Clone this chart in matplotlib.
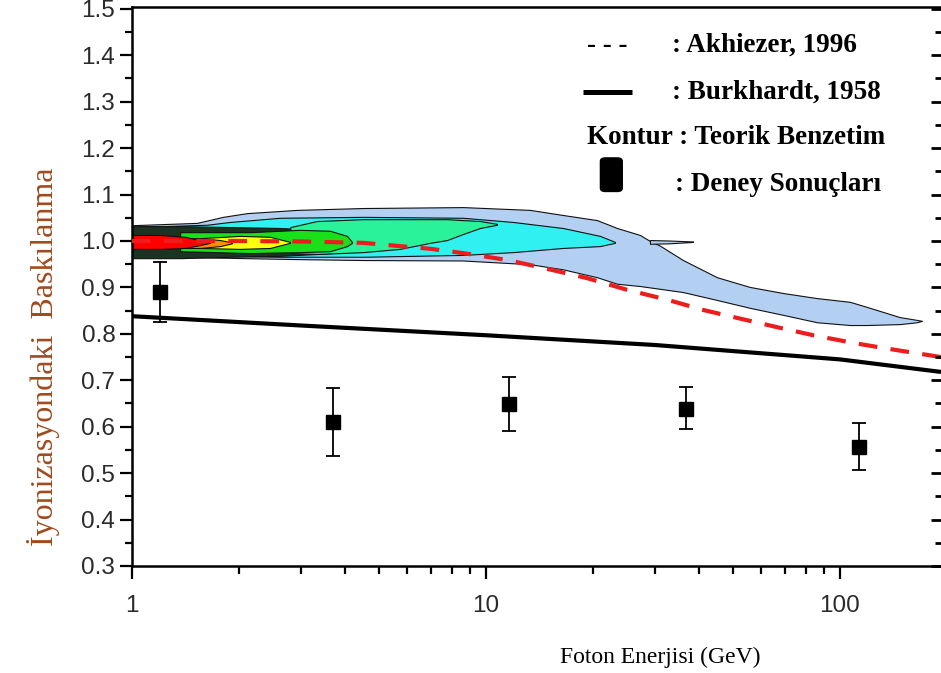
import matplotlib
matplotlib.use("Agg")
import matplotlib.pyplot as plt
from matplotlib.patches import FancyBboxPatch
from matplotlib.lines import Line2D
from matplotlib.ticker import LogLocator, NullFormatter, FixedLocator, MultipleLocator

# ---------------- data ----------------
# Experimental points (Deney Sonuçları)
exp_E = [1.2, 3.7, 11.6, 36.7, 113.0]
exp_val = [0.890, 0.610, 0.649, 0.638, 0.556]
exp_err_lo = [0.065, 0.073, 0.059, 0.043, 0.050]
exp_err_hi = [0.065, 0.073, 0.058, 0.047, 0.052]

# Akhiezer, 1996 (dashed red)
akh_E = [1.0, 2.0, 3.0, 4.5, 7.0, 8.6, 11.5, 14.9, 19.3, 25.0, 32.7, 41.3, 54.2, 68.6, 84.0, 110.0, 134.0, 193.0]
akh_val = [1.000, 1.000, 0.999, 0.996, 0.983, 0.974, 0.959, 0.940, 0.920, 0.895, 0.873, 0.851, 0.830, 0.812, 0.797, 0.780, 0.769, 0.750]

# Burkhardt, 1958 (solid black)
bur_E = [1.0, 3.0, 10.0, 30.0, 100.0, 193.0]
bur_val = [0.838, 0.818, 0.797, 0.776, 0.745, 0.718]

# Contour (Teorik Benzetim) levels: energy, upper edge, lower edge
lb_E = [1.0, 1.526, 1.807, 2.113, 2.925, 4.493, 8.61, 13.31, 16.5, 20.59, 23.45, 27.23, 29.06,
        31.01, 36.02, 44.93, 55.69, 69.02, 86.1, 106.7, 119.2, 147.7, 165.1, 170.5]
lb_up = [1.034, 1.039, 1.052, 1.060, 1.067, 1.071, 1.073, 1.067, 1.056, 1.045, 1.028, 1.013, 1.000,
         0.990, 0.959, 0.922, 0.901, 0.888, 0.877, 0.869, 0.858, 0.836, 0.830, 0.828]
lb_lo = [0.966, 0.965, 0.964, 0.963, 0.961, 0.959, 0.958, 0.950, 0.939, 0.922, 0.908, 0.903, 0.900,
         0.897, 0.890, 0.873, 0.856, 0.841, 0.825, 0.819, 0.819, 0.821, 0.825, 0.828]

spike_E = [29.06, 33.0, 38.43]
spike_up = [1.002, 1.001, 0.999]
spike_lo = [0.994, 0.995, 0.998]

cy_E = [1.0, 1.629, 1.891, 2.619, 4.493, 8.61, 11.92, 16.5, 20.99, 23.14]
cy_up = [1.030, 1.035, 1.041, 1.050, 1.052, 1.050, 1.041, 1.028, 1.011, 0.998]
cy_lo = [0.968, 0.968, 0.968, 0.966, 0.966, 0.970, 0.976, 0.985, 0.989, 0.996]

dark_E = [1.0, 1.367, 1.891, 2.619, 3.331, 4.05, 4.6]
dark_up = [1.032, 1.032, 1.030, 1.028, 1.024, 1.017, 1.000]
dark_lo = [0.963, 0.963, 0.966, 0.968, 0.972, 0.976, 0.995]

mint_E = [2.8, 3.331, 4.493, 5.716, 6.946, 7.76, 8.61, 9.618, 10.74]
mint_up = [1.030, 1.043, 1.047, 1.047, 1.047, 1.047, 1.045, 1.043, 1.037]
mint_lo = [0.974, 0.972, 0.976, 0.983, 0.996, 1.002, 1.015, 1.028, 1.035]

gr_E = [1.367, 2.154, 2.982, 3.625, 4.05, 4.182]
gr_up = [1.019, 1.019, 1.024, 1.022, 1.011, 0.998]
gr_lo = [0.978, 0.974, 0.976, 0.978, 0.989, 0.996]

ye_E = [1.556, 2.019, 2.454, 2.795]
ye_up = [1.006, 1.011, 1.009, 0.998]
ye_lo = [0.985, 0.983, 0.985, 0.996]

or_E = [1.367, 1.556, 1.773, 1.916]
or_up = [1.006, 1.006, 1.002, 0.997]
or_lo = [0.985, 0.985, 0.989, 0.995]

red_E = [1.0, 1.2, 1.411, 1.556, 1.661]
red_up = [1.013, 1.013, 1.009, 1.002, 0.998]
red_lo = [0.983, 0.983, 0.985, 0.991, 0.996]

x_ticks = [1, 10, 100]
x_ticklabels = ["1", "10", "100"]
y_ticks = [0.3, 0.4, 0.5, 0.6, 0.7, 0.8, 0.9, 1.0, 1.1, 1.2, 1.3, 1.4, 1.5]

# ---------------- figure ----------------
fig = plt.figure(figsize=(9.41, 6.73), dpi=100)
ax = fig.add_axes([0.1403, 0.159, 0.8597, 0.8306])
ax.set_xscale("log")
ax.set_xlim(1, 193)
ax.set_ylim(0.3, 1.504)

levels = [
    (lb_E, lb_up, lb_lo, "#b3d0f3"),
    (spike_E, spike_up, spike_lo, "#b3d0f3"),
    (cy_E, cy_up, cy_lo, "#30f0f0"),
    (dark_E, dark_up, dark_lo, "#1c3321"),
    (mint_E, mint_up, mint_lo, "#2af29a"),
    (gr_E, gr_up, gr_lo, "#19e019"),
    (ye_E, ye_up, ye_lo, "#ffff10"),
    (or_E, or_up, or_lo, "#ff8c00"),
    (red_E, red_up, red_lo, "#ff0000"),
]
for E, up, lo, col in levels:
    ax.fill_between(E, lo, up, facecolor=col, edgecolor="#111111", linewidth=0.8, zorder=2)

ax.plot(bur_E, bur_val, color="black", linewidth=3.0, solid_capstyle="butt", zorder=3)
ax.plot(akh_E, akh_val, color="#ee1c1c", linewidth=3.0, dashes=(4.5, 3.2), zorder=4)

ax.errorbar(exp_E, exp_val, yerr=[exp_err_lo, exp_err_hi], fmt="s", color="black",
            markersize=9.5, elinewidth=1.3, capsize=5, capthick=1.3, zorder=5)

# ticks
ax.xaxis.set_major_locator(FixedLocator(x_ticks))
ax.set_xticklabels(x_ticklabels)
ax.xaxis.set_minor_locator(LogLocator(base=10, subs=[2, 3, 4, 5, 6, 7, 8, 9]))
ax.xaxis.set_minor_formatter(NullFormatter())
ax.yaxis.set_major_locator(FixedLocator(y_ticks))
ax.yaxis.set_minor_locator(MultipleLocator(0.05))
ax.set_yticklabels(["%.1f" % v for v in y_ticks])

for lab in ax.get_xticklabels() + ax.get_yticklabels():
    lab.set_fontfamily("Liberation Sans")
    lab.set_fontsize(17.5)
    lab.set_color("#2a2a2a")

ax.tick_params(axis="y", which="major", direction="out", length=9, width=1.6, pad=3)
ax.tick_params(axis="y", which="minor", direction="out", length=5, width=1.6)
ax.tick_params(axis="x", which="major", direction="out", length=9, width=1.6, pad=12)
ax.tick_params(axis="x", which="minor", direction="out", length=6, width=1.6)

for s in ["left", "bottom", "top"]:
    ax.spines[s].set_linewidth(1.8)
ax.spines["right"].set_visible(False)

# right-side inward ticks
ax2 = ax.twinx()
ax2.set_ylim(ax.get_ylim())
ax2.yaxis.set_major_locator(FixedLocator(y_ticks))
ax2.yaxis.set_minor_locator(MultipleLocator(0.05))
ax2.tick_params(axis="y", which="major", direction="in", length=7, width=2.0, labelright=False)
ax2.tick_params(axis="y", which="minor", direction="in", length=4, width=2.0)
for s in ax2.spines.values():
    s.set_visible(False)

fig.text(660 / 941, 1 - 657 / 673, "Foton Enerjisi (GeV)", family="Liberation Serif", fontsize=17,
         ha="center", va="center")
fig.text(44 / 941, 1 - 357 / 673, "İyonizasyondaki  Baskılanma", family="Liberation Serif",
         fontsize=23, color="#a04a1c", rotation=90, ha="center", va="center")

# legend (manual)
lf = dict(family="Liberation Serif", fontweight="bold", fontsize=19.5, transform=ax.transAxes,
          va="center", ha="left", zorder=6)
ax.text(0.563, 0.932, "- - -", **lf)
ax.text(0.6675, 0.932, ": Akhiezer, 1996", **lf)
ax.add_line(Line2D([0.5575, 0.618], [0.848, 0.848], transform=ax.transAxes, color="black",
                   linewidth=3.6, solid_capstyle="butt"))
ax.text(0.6675, 0.848, ": Burkhardt, 1958", **lf)
ax.text(0.5624, 0.7674, "Kontur : Teorik Benzetim", **lf)
ax.add_patch(FancyBboxPatch((0.579, 0.670), 0.027, 0.060, boxstyle="round,pad=0,rounding_size=0.006",
                            transform=ax.transAxes, facecolor="black", edgecolor="black", zorder=6))
ax.text(0.671, 0.6816, ": Deney Sonuçları", **lf)

fig.savefig("out.png", dpi=100)
